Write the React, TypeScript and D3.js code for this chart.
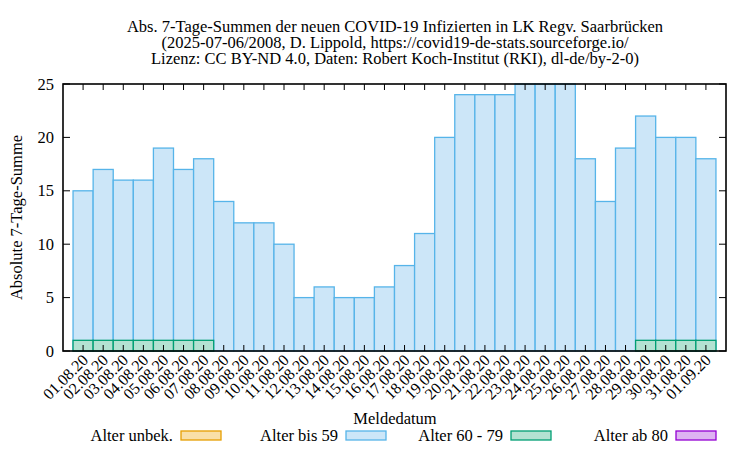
import React from "react";
import * as d3 from "d3";

const dates = [
  "01.08.20","02.08.20","03.08.20","04.08.20","05.08.20","06.08.20","07.08.20","08.08.20",
  "09.08.20","10.08.20","11.08.20","12.08.20","13.08.20","14.08.20","15.08.20","16.08.20",
  "17.08.20","18.08.20","19.08.20","20.08.20","21.08.20","22.08.20","23.08.20","24.08.20",
  "25.08.20","26.08.20","27.08.20","28.08.20","29.08.20","30.08.20","31.08.20","01.09.20",
];
const totals = [15,17,16,16,19,17,18,14,12,12,10,5,6,5,5,6,8,11,20,24,24,24,25,25,25,18,14,19,22,20,20,18];
const age6079 = [1,1,1,1,1,1,1,0,0,0,0,0,0,0,0,0,0,0,0,0,0,0,0,0,0,0,0,0,1,1,1,1];
const yTicks = [0,5,10,15,20,25];
const titleLines = [
  "Abs. 7-Tage-Summen der neuen COVID-19 Infizierten in LK Regv. Saarbrücken",
  "(2025-07-06/2008, D. Lippold, https://covid19-de-stats.sourceforge.io/",
  "Lizenz: CC BY-ND 4.0, Daten: Robert Koch-Institut (RKI), dl-de/by-2-0)",
];
const legendItems = [
  { label: "Alter unbek.", fill: "#f9e0a8", stroke: "#e69f00" },
  { label: "Alter bis 59", fill: "#cce6f8", stroke: "#56b4e9" },
  { label: "Alter 60 - 79", fill: "#b3e2d2", stroke: "#009e73" },
  { label: "Alter ab 80", fill: "#deb3f2", stroke: "#9400d3" },
];

const L = 63, R = 726, T = 84, B = 351;
const font = "'Liberation Serif', 'Times New Roman', serif";
const FS = 16.5;

export default function App() {
  const x = d3.scaleLinear().domain([-1, dates.length]).range([L, R]);
  const y = d3.scaleLinear().domain([0, 25]).range([B, T]);
  const bw = x(1) - x(0);
  const blue = legendItems[1];
  const green = legendItems[2];
  return (
    <svg width={750} height={450} style={{ display: "block", position: "absolute", left: 0, top: 0 }} fontFamily={font}>
      <rect width={750} height={450} fill="#fff" />
      {titleLines.map((t, i) => (
        <text key={i} x={395} y={32 + i * 16} textAnchor="middle" fontSize={FS} fill="#000">{t}</text>
      ))}
      {totals.map((v, i) => (
        <rect key={"b" + i} x={x(i) - bw / 2} y={y(v)} width={bw} height={y(0) - y(v)}
          fill={blue.fill} stroke={blue.stroke} strokeWidth={1.3} />
      ))}
      {age6079.map((v, i) => v > 0 ? (
        <rect key={"g" + i} x={x(i) - bw / 2} y={y(v)} width={bw} height={y(0) - y(v)}
          fill={green.fill} stroke={green.stroke} strokeWidth={1.3} />
      ) : null)}
      {yTicks.map((t) => (
        <g key={"y" + t}>
          <line x1={L} x2={L + 7} y1={y(t)} y2={y(t)} stroke="#000" strokeWidth={1} />
          <line x1={R} x2={R - 7} y1={y(t)} y2={y(t)} stroke="#000" strokeWidth={1} />
          <text x={L - 9} y={y(t) + 5.5} textAnchor="end" fontSize={FS}>{t}</text>
        </g>
      ))}
      {dates.map((d, i) => (
        <g key={"x" + i}>
          <line x1={x(i)} x2={x(i)} y1={T} y2={T + 6} stroke="#000" strokeWidth={1} />
          <line x1={x(i)} x2={x(i)} y1={B} y2={B - 6} stroke="#000" strokeWidth={1} />
          <text transform={`translate(${x(i) + 6},${B + 10}) rotate(-45)`} textAnchor="end" fontSize={16}>{d}</text>
        </g>
      ))}
      <rect x={L} y={T} width={R - L} height={B - T} fill="none" stroke="#000" strokeWidth={1.6} />
      <text transform={`translate(22,${(T + B) / 2}) rotate(-90)`} textAnchor="middle" fontSize={FS}>Absolute 7-Tage-Summe</text>
      <text x={395} y={424} textAnchor="middle" fontSize={FS}>Meldedatum</text>
      {legendItems.map((it, i) => {
        const bx = 181 + i * 165;
        return (
          <g key={"l" + i}>
            <text x={bx - 8} y={441} textAnchor="end" fontSize={FS}>{it.label}</text>
            <rect x={bx} y={431} width={40} height={9} fill={it.fill} stroke={it.stroke} strokeWidth={1.3} />
          </g>
        );
      })}
    </svg>
  );
}
